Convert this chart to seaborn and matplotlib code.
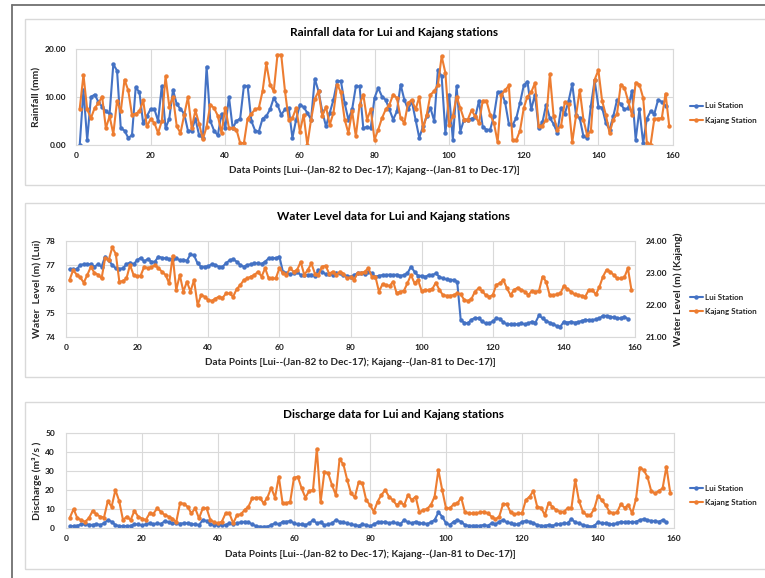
import numpy as np
import pandas as pd
import matplotlib
matplotlib.use("Agg")
import matplotlib.pyplot as plt
from matplotlib.patches import Rectangle
from matplotlib.lines import Line2D
from matplotlib.ticker import FormatStrFormatter
import seaborn as sns

# ---------------------------------------------------------------- data
stations = ["Lui Station", "Kajang Station"]
x_ticks = [0, 20, 40, 60, 80, 100, 120, 140, 160]
x_label_text = "Data Points [Lui--(Jan-82 to Dec-17); Kajang--(Jan-81 to Dec-17)]"

rain_lui = [
    0, 11.5, 1, 10, 10.5, 9, 8, 7, 6.5, 16.8,
    15.5, 3.5, 3, 1.5, 2, 12, 11, 4.5, 6, 7.5,
    7.5, 5, 12.3, 3.5, 5.5, 11.5, 8.5, 7.5, 6.5, 3,
    3, 5.5, 2, 1.5, 16.3, 5, 3, 2, 6.5, 3.5,
    10, 3.5, 5, 5.5, 12.3, 12.3, 5, 3, 2.8, 5.5,
    6, 7.4, 9.8, 8.4, 6.3, 7.4, 7.7, 1.5, 5.3, 8.4,
    7.9, 6.7, 5.3, 13.8, 11.2, 7, 3.9, 6.7, 9.4, 13.3,
    13.3, 8.7, 5.3, 7.4, 12.2, 12.2, 3.5, 3.8, 3.5, 9.8,
    11.9, 10.1, 9.4, 7.4, 5.3, 7, 12.6, 9.4, 7.4, 9.1,
    5.3, 1.5, 3.9, 6, 7.7, 5, 15.7, 14.3, 2.5, 10.5,
    1.1, 12.2, 2.8, 5.3, 5.3, 5.5, 5.8, 9.2, 3.8, 3.2,
    3.2, 6, 11, 11, 8.9, 4.4, 4.2, 5.6, 8.8, 12.4,
    13.2, 7.4, 10.5, 3.5, 4.7, 8.4, 5.6, 4.4, 2.5, 7.7,
    6.5, 9.1, 12.7, 6.3, 5.6, 1.8, 1.5, 8.2, 13.5, 8,
    7.8, 4.6, 3.2, 6, 9.4, 8.5, 7.4, 7.7, 11.3, 1.1,
    7.4, 0.4, 5.5, 7, 6.5, 9.4, 9, 8.2,
]
rain_kajang = [
    7.6, 14.6, 7.4, 5.6, 7.7, 8.7, 10.1, 3.5, 6, 2.3,
    9.2, 7, 13.6, 11.4, 6.3, 6.5, 7, 9.3, 3.9, 5.4,
    4.6, 2.5, 5, 14.3, 8, 10, 3.9, 2.5, 6.3, 10,
    3.5, 7.2, 4.4, 1.2, 3.8, 8.4, 7.7, 6.1, 2.5, 7.8,
    3.5, 3.5, 3.2, 0.4, 0.4, 5.5, 6.5, 7.4, 7.7, 11.2,
    17, 12.6, 11.2, 18.8, 18.8, 11.3, 5.3, 5.6, 7.7, 2.8,
    6.3, 0, 5.3, 9.6, 11.2, 6, 8, 4.2, 6.7, 12.6,
    11, 5.3, 2.5, 7, 1.8, 8.4, 10.5, 5.3, 7.4, 1.1,
    3.2, 5.6, 7.4, 8.4, 10.5, 9.8, 5.6, 4.6, 8.75, 9.4,
    7.4, 10, 3.2, 6.3, 10.5, 11.2, 12.6, 18.5, 15, 4.2,
    6, 10.1, 7.7, 5.3, 5.3, 7.2, 6, 4.6, 9.2, 9.2,
    6.3, 4.6, 0.6, 10.5, 11.4, 12.4, 1, 1, 3, 7.7,
    10.1, 11, 12.9, 3.9, 4, 5.3, 14.7, 6, 3.2, 4,
    8.9, 8.5, 0.6, 6, 11.5, 5.3, 2, 3, 13.6, 15.6,
    9.2, 6.3, 2.5, 5.3, 6.5, 12.6, 11.9, 9.1, 6.3, 13,
    12.6, 9.8, 0.4, 0.1, 5.5, 5.5, 5.6, 10.7, 3.9,
]

level_lui = [
    76.82, 76.82, 76.82, 77.0, 77.03, 77.03, 77.03, 76.93, 77.03, 76.93,
    77.35, 77.2, 77.0, 76.86, 76.84, 76.86, 77.03, 77.1, 77.03, 77.2,
    77.3, 77.15, 77.25, 77.14, 77.14, 77.35, 77.3, 77.28, 77.25, 77.25,
    77.28, 77.2, 77.22, 77.18, 77.44, 77.4, 77.07, 76.93, 76.93, 76.95,
    77.03, 77.0, 76.93, 76.93, 77.07, 77.2, 77.24, 77.14, 77.0, 76.93,
    77.0, 77.03, 77.07, 77.07, 77.05, 77.14, 77.28, 77.3, 77.28, 77.35,
    76.72, 76.65, 76.62, 76.65, 76.72, 76.58, 76.58, 76.58, 76.6, 76.55,
    76.79, 76.72, 76.62, 76.62, 76.58, 76.68, 76.65, 76.58, 76.55, 76.51,
    76.58, 76.65, 76.65, 76.62, 76.72, 76.65, 76.51, 76.55, 76.58, 76.58,
    76.6, 76.58, 76.6, 76.55, 76.58, 76.65, 76.93, 76.72, 76.55, 76.55,
    76.51, 76.58, 76.58, 76.65, 76.51, 76.44, 76.4, 76.38, 76.38, 76.3,
    74.7, 74.6, 74.57, 74.72, 74.8, 74.78, 74.65, 74.57, 74.57, 74.65,
    74.78, 74.76, 74.61, 74.53, 74.53, 74.53, 74.53, 74.57, 74.53, 74.57,
    74.64, 74.6, 74.9, 74.78, 74.67, 74.6, 74.53, 74.46, 74.43, 74.64,
    74.6, 74.64, 74.6, 74.62, 74.67, 74.72, 74.7, 74.7, 74.74, 74.78,
    74.89, 74.88, 74.85, 74.82, 74.78, 74.78, 74.85, 74.75,
]
level_kajang = [
    22.78, 23.09, 22.95, 22.86, 22.7, 22.94, 23.2, 23.0, 22.95, 22.83,
    23.46, 23.4, 23.8, 23.6, 22.73, 22.75, 22.83, 23.25, 22.94, 22.9,
    22.92, 23.2, 23.15, 23.18, 23.25, 23.15, 23.04, 22.94, 22.68, 23.54,
    22.47, 22.94, 22.42, 22.73, 22.42, 22.78, 22.0, 22.31, 22.26, 22.16,
    22.13, 22.2, 22.26, 22.22, 22.36, 22.36, 22.26, 22.5, 22.62, 22.78,
    22.83, 22.89, 22.94, 23.04, 22.89, 23.15, 22.83, 22.83, 22.83, 23.15,
    23.0, 22.94, 23.15, 23.04, 23.1, 23.35, 22.94, 23.1, 23.3, 22.98,
    22.94, 23.2, 23.23, 22.98, 23.04, 22.94, 23.04, 22.98, 22.83, 22.86,
    22.78, 23.0, 23.0, 23.04, 23.15, 22.89, 22.89, 22.42, 22.65, 22.62,
    22.6, 22.73, 22.36, 22.42, 22.44, 22.68, 22.94, 22.68, 22.78, 22.44,
    22.47, 22.47, 22.5, 22.7, 22.47, 22.31, 22.29, 22.29, 22.31, 22.36,
    22.33, 22.16, 22.13, 22.19, 22.42, 22.52, 22.44, 22.31, 22.26, 22.31,
    22.63, 22.68, 22.78, 22.52, 22.31, 22.47, 22.54, 22.47, 22.42, 22.31,
    22.44, 22.42, 22.44, 22.89, 22.73, 22.31, 22.31, 22.33, 22.36, 22.6,
    22.5, 22.42, 22.33, 22.31, 22.29, 22.26, 22.47, 22.47, 22.33, 22.57,
    22.89, 23.1, 23.04, 22.94, 22.83, 22.83, 22.86, 23.15, 22.47,
]

flow_lui = [
    1, 1, 1.2, 1.9, 2.1, 1.8, 1.6, 2.1, 1.6, 2.5,
    4.2, 3.3, 1.6, 1, 1, 1, 1.2, 1.9, 1.9, 1.4,
    1.9, 2.5, 1.9, 2.5, 2.1, 3.7, 3, 2.5, 2.5, 2.3,
    2.5, 2.5, 2.1, 1.9, 1.6, 4.2, 3.7, 2.1, 1.6, 1.6,
    1.6, 1.6, 2.5, 2.1, 2.5, 3, 3.3, 3, 1.9, 1,
    0.7, 0.7, 0.7, 1.6, 2.5, 1.9, 3.3, 3.3, 3.7, 2.5,
    1.9, 1.9, 1.6, 2.5, 4.2, 2.5, 3, 1.6, 1.9, 2.5,
    4.2, 3.3, 3, 2.5, 1.9, 1.6, 1.2, 1.9, 1.6, 1,
    1.9, 3, 3, 3.3, 2.5, 3, 2.5, 2.1, 4.2, 3,
    2.5, 3.3, 2.5, 2.5, 2.1, 3, 4.2, 8.2, 6, 2.5,
    1.6, 3.3, 4.2, 3.3, 1.6, 1.2, 1.2, 1.2, 1.2, 1.6,
    1.2, 2.5, 1.9, 3.3, 4.2, 3, 2.5, 1.9, 1.9, 3.3,
    3.7, 3.3, 2.5, 1.6, 1.2, 1.2, 1.6, 1.2, 1.9, 2.1,
    2.5, 2.5, 4.7, 3, 2.5, 1.6, 1.2, 0.7, 1.2, 3,
    2.5, 2.5, 2.1, 1.9, 2.5, 3.3, 3, 3.3, 3, 3.3,
    4.2, 4.7, 4.2, 3.7, 3.7, 3.3, 4.2, 3,
]
flow_kajang = [
    5.4, 10, 5.1, 4.2, 3.3, 5.1, 9, 7.2, 6, 5.5,
    14.2, 11.2, 20, 14.2, 4.2, 6, 4.2, 9, 6, 5,
    4.2, 7.7, 7.5, 10.4, 8.5, 6.8, 6, 5, 3, 13,
    12.8, 11.2, 7.7, 10.4, 5.1, 10.4, 10.4, 4.2, 3, 2.5,
    3.3, 7.7, 7.7, 2.5, 6.8, 7.2, 9.5, 11.2, 15.6, 16,
    16, 13, 16, 21.2, 16, 27, 13, 13, 13.9, 26.5,
    27, 20.9, 16, 19.5, 20, 41.6, 13.5, 29.6, 28.8, 22.6,
    17.4, 36.3, 33.5, 25.3, 18.2, 16.2, 24, 23.5, 14.7, 12.1,
    8.6, 13.9, 17.4, 20, 16.5, 14.7, 12.1, 13.5, 12.1, 17.4,
    14.7, 16.5, 8.2, 9.5, 10, 12.1, 16.5, 30.5, 20, 10.4,
    10.4, 12.5, 13, 16, 8.2, 7.7, 7.7, 7.7, 8.2, 8.6,
    7.7, 6, 4.6, 6, 12.5, 12.7, 8.2, 7.2, 7.7, 7.7,
    14.7, 16.5, 19.5, 11.2, 10.7, 6.8, 13.3, 11.2, 9.5, 8.6,
    8.6, 10.4, 10.4, 25.3, 14.2, 8.6, 6.8, 6.8, 10, 17,
    14.7, 12.1, 8.6, 7.7, 8.2, 12.5, 10.7, 12.1, 7.7, 15.3,
    31.8, 30.5, 27, 19.5, 18.2, 19.5, 20.9, 32.3, 18.6,
]

# ---------------------------------------------------------------- style
sns.set_style("white")
plt.rcParams["font.family"] = ["Lato", "DejaVu Sans"]
plt.rcParams["font.weight"] = "bold"
plt.rcParams["axes.labelweight"] = "bold"

BLUE = "#4472C4"
ORANGE = "#ED7D31"
GRID = "#D9D9D9"
TICK_COLOR = "#1a1a1a"

W, H = 765, 578
fig = plt.figure(figsize=(W / 100, H / 100), dpi=100)
fig.patch.set_facecolor("white")


def rect(left, top, right, bottom):
    """Axes rectangle in figure fractions from pixel edges."""
    return [left / W, 1 - bottom / H, (right - left) / W, (bottom - top) / H]


def draw_series(ax, values, color, label):
    df = pd.DataFrame({"point": np.arange(1, len(values) + 1), "value": values})
    sns.lineplot(data=df, x="point", y="value", ax=ax, color=color,
                 linewidth=1.5, marker="o", markersize=3.2,
                 markeredgewidth=0, label=label, legend=False)


def style_axes(ax):
    ax.set_xlim(0, 160)
    ax.set_xticks(x_ticks)
    ax.grid(True, color=GRID, linewidth=0.8)
    ax.set_axisbelow(True)
    for s in ax.spines.values():
        s.set_visible(True)
        s.set_color(GRID)
        s.set_linewidth(0.8)
    ax.tick_params(length=0, labelsize=6, pad=5, colors=TICK_COLOR)


def add_legend(ax, y_mid):
    handles = [
        Line2D([], [], color=BLUE, lw=1.5, marker="o", ms=3.2, mew=0),
        Line2D([], [], color=ORANGE, lw=1.5, marker="o", ms=3.2, mew=0),
    ]
    ax.legend(handles, stations, loc="center left",
              bbox_to_anchor=(690 / W, 1 - y_mid / H),
              bbox_transform=fig.transFigure, frameon=False, fontsize=5.8,
              handlelength=1.6, handletextpad=0.3, borderpad=0,
              borderaxespad=0, labelspacing=0.9)


def panel_title(text, y):
    fig.text(394 / W, 1 - y / H, text, ha="center", va="center",
             fontsize=8.5, fontweight="bold", color="black")


# ---------------------------------------------------------------- frames
fig.add_artist(Line2D([12 / W, 1], [1 - 5 / H, 1 - 5 / H],
                      transform=fig.transFigure, color="#707070", lw=1.3))
fig.add_artist(Line2D([12 / W, 12 / W], [1 - 5 / H, 0],
                      transform=fig.transFigure, color="#707070", lw=1.3))
for top, bottom in [(19, 185), (203, 377), (402, 569)]:
    fig.add_artist(Rectangle((25 / W, 1 - bottom / H), (775 - 25) / W,
                             (bottom - top) / H, transform=fig.transFigure,
                             fill=False, edgecolor=GRID, linewidth=1.0))

# ---------------------------------------------------------------- rainfall
ax1 = fig.add_axes(rect(76, 49, 673, 145))
draw_series(ax1, rain_lui, BLUE, stations[0])
draw_series(ax1, rain_kajang, ORANGE, stations[1])
style_axes(ax1)
ax1.set_ylim(0, 20)
ax1.set_yticks([0, 10, 20])
ax1.yaxis.set_major_formatter(FormatStrFormatter("%.2f"))
ax1.tick_params(axis="y", pad=7)
ax1.set_ylabel("Rainfall (mm)", fontsize=7.5)
ax1.yaxis.set_label_coords((41 - 76) / 597, 0.5)
ax1.set_xlabel(x_label_text, fontsize=7.2)
ax1.xaxis.set_label_coords(0.5, (145 - 170) / 96)
ax1.xaxis.label.set_va("center")
panel_title("Rainfall data for Lui and Kajang stations", 33)
add_legend(ax1, 113)

# ---------------------------------------------------------------- water level
ax2 = fig.add_axes(rect(66, 241, 635, 337))
draw_series(ax2, level_lui, BLUE, stations[0])
style_axes(ax2)
ax2.set_ylim(74, 78)
ax2.set_yticks([74, 75, 76, 77, 78])
ax2.tick_params(axis="y", pad=8)
ax2.set_ylabel("Water  Level (m) (Lui)", fontsize=7.5)
ax2.yaxis.set_label_coords((42 - 66) / 569, 0.5)
ax2.set_xlabel(x_label_text, fontsize=7.2)
ax2.xaxis.set_label_coords(0.5, (337 - 362) / 96)
ax2.xaxis.label.set_va("center")

ax2r = ax2.twinx()
draw_series(ax2r, level_kajang, ORANGE, stations[1])
ax2r.set_ylim(21, 24)
ax2r.set_yticks([21, 22, 23, 24])
ax2r.yaxis.set_major_formatter(FormatStrFormatter("%.2f"))
ax2r.grid(False)
for s in ax2r.spines.values():
    s.set_visible(False)
ax2r.tick_params(length=0, labelsize=6, pad=8, colors=TICK_COLOR)
ax2r.set_ylabel("Water Level (m) (Kajang)", fontsize=7.5)
ax2r.yaxis.set_label_coords((673 - 66) / 569, 0.5)
ax2r.yaxis.label.set_rotation(90)
panel_title("Water Level data for Lui and Kajang stations", 217)
add_legend(ax2r, 304.5)

# ---------------------------------------------------------------- discharge
ax3 = fig.add_axes(rect(66, 433, 674, 528))
draw_series(ax3, flow_lui, BLUE, stations[0])
draw_series(ax3, flow_kajang, ORANGE, stations[1])
style_axes(ax3)
ax3.set_ylim(0, 50)
ax3.set_yticks([0, 10, 20, 30, 40, 50])
ax3.tick_params(axis="y", pad=8)
ax3.set_ylabel("Discharge (m³/s )", fontsize=7.5)
ax3.yaxis.set_label_coords((42 - 66) / 608, 0.5)
ax3.set_xlabel(x_label_text, fontsize=7.2)
ax3.xaxis.set_label_coords(0.5, (528 - 554) / 95)
ax3.xaxis.label.set_va("center")
panel_title("Discharge data for Lui and Kajang stations", 415)
add_legend(ax3, 495.5)

fig.savefig("out.png", dpi=100, facecolor="white")
